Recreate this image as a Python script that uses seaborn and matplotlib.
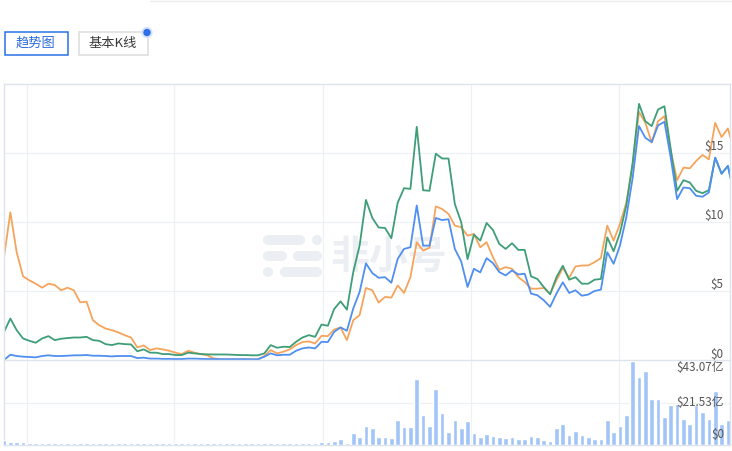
import numpy as np
import pandas as pd
import matplotlib
matplotlib.use("Agg")
import matplotlib.pyplot as plt
import seaborn as sns
from matplotlib.patches import Circle, Rectangle

# ---------------- data ----------------
orange = [7.45, 10.7, 7.8, 6.06, 5.77, 5.53, 5.24, 5.53, 5.43, 5.05,
          5.24, 5.05, 4.18, 4.23, 2.88, 2.52, 2.28, 2.16, 2.0, 1.8,
          1.63, 0.91, 1.06, 0.72, 0.84, 0.77, 0.67, 0.53, 0.43, 0.67,
          0.53, 0.43, 0.34, 0.12, 0.05, 0.04, 0.04, 0.04, 0.04, 0.04,
          0.05, 0.29, 0.72, 0.48, 0.6, 0.77, 1.08, 1.3, 1.35, 1.2,
          1.75, 1.73, 2.21, 2.36, 1.44, 2.88, 3.25, 5.22, 5.05, 4.16,
          4.57, 4.52, 5.4, 4.86, 6.0, 8.53, 7.93, 8.13, 11.13, 10.94,
          10.58, 9.74, 9.62, 9.01, 9.13, 8.17, 8.53, 7.45, 6.54, 6.73,
          6.61, 6.0, 5.65, 5.17, 5.17, 5.22, 4.81, 5.77, 6.68, 5.96,
          6.78, 6.85, 6.85, 7.09, 7.38, 9.74, 8.65, 9.86, 11.4, 14.06,
          17.98, 17.19, 15.75, 17.3, 17.67, 15.14, 13.03, 13.94, 13.89, 14.42,
          14.86, 14.54, 17.19, 16.15, 16.78, 15.1]

green = [2.04, 3.0, 2.16, 1.56, 1.39, 1.25, 1.56, 1.73, 1.44, 1.54,
         1.59, 1.63, 1.63, 1.68, 1.44, 1.39, 1.15, 1.08, 1.2, 1.15,
         1.13, 0.63, 0.77, 0.53, 0.53, 0.43, 0.43, 0.36, 0.36, 0.53,
         0.48, 0.43, 0.41, 0.4, 0.4, 0.4, 0.38, 0.36, 0.36, 0.34,
         0.34, 0.48, 1.08, 0.89, 0.96, 0.94, 1.32, 1.63, 1.8, 1.68,
         2.57, 2.48, 3.7, 4.25, 3.65, 6.37, 8.29, 11.6, 10.3, 9.6,
         9.57, 8.82, 11.4, 12.45, 12.4, 16.9, 12.3, 12.26, 14.95, 14.6,
         14.6, 11.3, 9.98, 7.31, 9.09, 8.65, 9.93, 9.42, 8.41, 8.05,
         8.46, 7.98, 7.98, 6.06, 5.87, 5.29, 4.76, 6.0, 6.83, 5.82,
         6.0, 5.53, 5.53, 5.82, 5.87, 8.89, 7.88, 9.2, 11.2, 14.3,
         18.56, 17.3, 16.95, 18.15, 18.39, 15.26, 12.26, 13.03, 12.86, 12.26,
         12.09, 12.31, 14.66, 13.5, 14.06, 12.0]

blue = [0.0, 0.38, 0.29, 0.24, 0.22, 0.19, 0.29, 0.34, 0.29, 0.29,
        0.31, 0.34, 0.34, 0.36, 0.31, 0.31, 0.29, 0.26, 0.29, 0.29,
        0.29, 0.14, 0.17, 0.1, 0.1, 0.08, 0.08, 0.07, 0.07, 0.1,
        0.1, 0.08, 0.07, 0.07, 0.06, 0.06, 0.06, 0.06, 0.06, 0.05,
        0.05, 0.24, 0.48, 0.34, 0.38, 0.38, 0.67, 0.84, 0.91, 0.84,
        1.32, 1.3, 2.04, 2.36, 2.12, 3.73, 4.93, 7.0, 6.3, 5.96,
        6.0, 5.6, 7.33, 8.05, 8.17, 11.2, 8.29, 8.29, 10.29, 10.14,
        10.2, 8.05, 7.14, 5.29, 6.61, 6.35, 7.38, 7.02, 6.37, 6.13,
        6.49, 6.2, 6.25, 4.81, 4.69, 4.33, 3.85, 4.81, 5.63, 4.86,
        5.05, 4.66, 4.74, 5.0, 5.1, 7.81, 6.97, 8.29, 10.34, 13.2,
        16.95, 16.1, 15.79, 17.0, 17.26, 14.66, 11.66, 12.5, 12.45, 11.9,
        11.83, 12.14, 14.66, 13.5, 14.06, 12.0]

volume = [2.5, 1.5, 1.4, 1.2, 0.9, 0.9, 0.9, 0.9, 0.9, 0.9,
          0.9, 0.9, 0.9, 0.9, 0.9, 0.9, 0.9, 0.9, 0.9, 0.9,
          0.9, 0.7, 0.7, 0.7, 0.7, 0.6, 0.6, 0.6, 0.6, 0.6,
          0.6, 0.6, 0.6, 0.6, 0.6, 0.6, 0.6, 0.6, 0.6, 0.6,
          0.6, 0.8, 0.7, 0.7, 0.7, 0.8, 0.8, 0.9, 0.9, 1.0,
          1.5, 1.4, 1.7, 2.8, 1.0, 5.9, 3.8, 9.5, 8.4, 3.6,
          3.8, 3.3, 12.8, 9.0, 8.8, 33.6, 15.3, 9.5, 28.6, 16.4,
          6.2, 12.8, 8.4, 12.2, 6.0, 3.8, 5.2, 4.5, 4.0, 3.1,
          4.1, 2.9, 2.9, 4.5, 3.6, 2.2, 1.9, 8.4, 10.5, 4.7,
          6.7, 4.7, 3.6, 2.9, 2.9, 12.8, 6.4, 9.3, 15.0, 43.07,
          34.7, 37.9, 23.1, 23.3, 14.0, 20.2, 21.0, 13.3, 10.3, 20.5,
          16.9, 12.9, 27.6, 10.3, 12.4, 10.0]

price_ticks = [0, 5, 10, 15]
price_labels = ["$0", "$5", "$10", "$15"]
vol_ticks = [0, 21.53, 43.07]
vol_labels = ["$0", "$21.53亿", "$43.07亿"]
buttons = ["趋势图", "基本K线"]
watermark = "非小号"

# ---------------- style ----------------
sns.set_theme(style="white")
plt.rcParams["font.family"] = ["Noto Sans CJK SC", "DejaVu Sans"]

W, H = 732, 451
fig = plt.figure(figsize=(W / 100, H / 100), dpi=100)
fig.patch.set_facecolor("white")

# background layer in pixel coordinates
bg = fig.add_axes([0, 0, 1, 1], zorder=0)
bg.set_xlim(0, W)
bg.set_ylim(H, 0)
bg.axis("off")

# faint top page line
bg.plot([150, W], [0.5, 0.5], color="#ececec", lw=1)

# buttons
bg.add_patch(Rectangle((4.5, 31.5), 63, 23, fill=True, facecolor="white",
                       edgecolor="#2a6fe6", lw=1.1))
bg.text(36, 43.5, buttons[0], color="#2b6ce0", fontsize=9.5, ha="center", va="center")
bg.add_patch(Rectangle((78.5, 31.5), 69, 23, fill=True, facecolor="white",
                       edgecolor="#dcdcdc", lw=1.1))
bg.text(113, 43.5, buttons[1], color="#3a3a3a", fontsize=9.5, ha="center", va="center")
bg.add_patch(Circle((147, 32.5), 5, color="#d6e4fb"))
bg.add_patch(Circle((147, 32.5), 3, color="#2f6fea"))

# watermark
wm = "#ebeef3"
def rbar(x0, x1, yc, h=10):
    bg.add_patch(Circle((x0 + h / 2, yc), h / 2, color=wm, lw=0))
    bg.add_patch(Circle((x1 - h / 2, yc), h / 2, color=wm, lw=0))
    bg.add_patch(Rectangle((x0 + h / 2, yc - h / 2), x1 - x0 - h, h, color=wm, lw=0))

rbar(263, 305, 240)
bg.add_patch(Circle((317, 240), 5, color=wm, lw=0))
rbar(263, 287, 256)
rbar(293, 322, 256)
bg.add_patch(Circle((268, 272), 5, color=wm, lw=0))
rbar(280, 322, 272)
bg.text(389, 257, watermark, color=wm, fontsize=28, fontweight="bold",
        ha="center", va="center")

# ---------------- price panel ----------------
x0_px, x1_px = 4, 730
step = 6.35
n = len(orange)
idx = np.arange(n)
xmax = (x1_px - x0_px) / step

ax = fig.add_axes([x0_px / W, (H - 360) / H, (x1_px - x0_px) / W, 276 / H], zorder=1)
ax.set_facecolor("none")

df = pd.DataFrame({
    "idx": np.concatenate([idx, idx, idx]),
    "price": orange + green + blue,
    "series": ["orange"] * n + ["green"] * n + ["blue"] * n,
})
pal = {"orange": "#f6a45c", "green": "#3e9e78", "blue": "#4f8ff0"}
sns.lineplot(data=df, x="idx", y="price", hue="series",
             hue_order=["orange", "green", "blue"], palette=pal,
             linewidth=1.3, legend=False, ax=ax)

ax.set_xlim(0, xmax)
ax.set_ylim(0, 20)
ax.set_xlabel("")
ax.set_ylabel("")
ax.set_xticks([])
ax.set_yticks([])
grid_c = "#eef0f5"
for v in price_ticks[1:]:
    ax.axhline(v, color=grid_c, lw=0.9, zorder=0)
vgrid_px = [26.5, 174, 322.5, 470.5, 618.5]
vgrid = [(p - x0_px) / step for p in vgrid_px]
for v in vgrid:
    ax.axvline(v, color=grid_c, lw=0.9, zorder=0)
for s in ax.spines.values():
    s.set_color("#dfe3ee")
    s.set_linewidth(1.0)

px_per = 276 / 20
for v, lab in zip(price_ticks, price_labels):
    yc = 360 - v * px_per - (6 if v == 0 else 7)
    fig.text(723.5 / W, 1 - yc / H, lab, color="#555555", fontsize=8.4,
             ha="right", va="center", zorder=6)

# ---------------- volume panel ----------------
axv = fig.add_axes([x0_px / W, (H - 444.5) / H, (x1_px - x0_px) / W, 84 / H], zorder=1)
axv.set_facecolor("none")
vdf = pd.DataFrame({"idx": idx, "vol": volume})
sns.barplot(data=vdf, x="idx", y="vol", native_scale=True, color="#a2c5f8",
            saturation=1, width=0.74, errorbar=None, ax=axv, zorder=3)
axv.set_xlim(0, xmax)
axv.set_ylim(0, 43.07)
axv.set_xlabel("")
axv.set_ylabel("")
axv.set_xticks([])
axv.set_yticks([])
axv.axhline(21.53, color=grid_c, lw=0.9, zorder=0)
for v in vgrid:
    axv.axvline(v, color=grid_c, lw=0.9, zorder=0)
for s in axv.spines.values():
    s.set_color("#dfe3ee")
    s.set_linewidth(1.0)
    s.set_zorder(0.5)
axv.spines["top"].set_visible(False)

vol_y = {0: 434, 21.53: 402, 43.07: 367.5}
for v, lab in zip(vol_ticks, vol_labels):
    fig.text(724 / W, 1 - vol_y[v] / H, lab, color="#555555", fontsize=8.4,
             ha="right", va="center", zorder=6)

fig.savefig("out.png", dpi=100)
